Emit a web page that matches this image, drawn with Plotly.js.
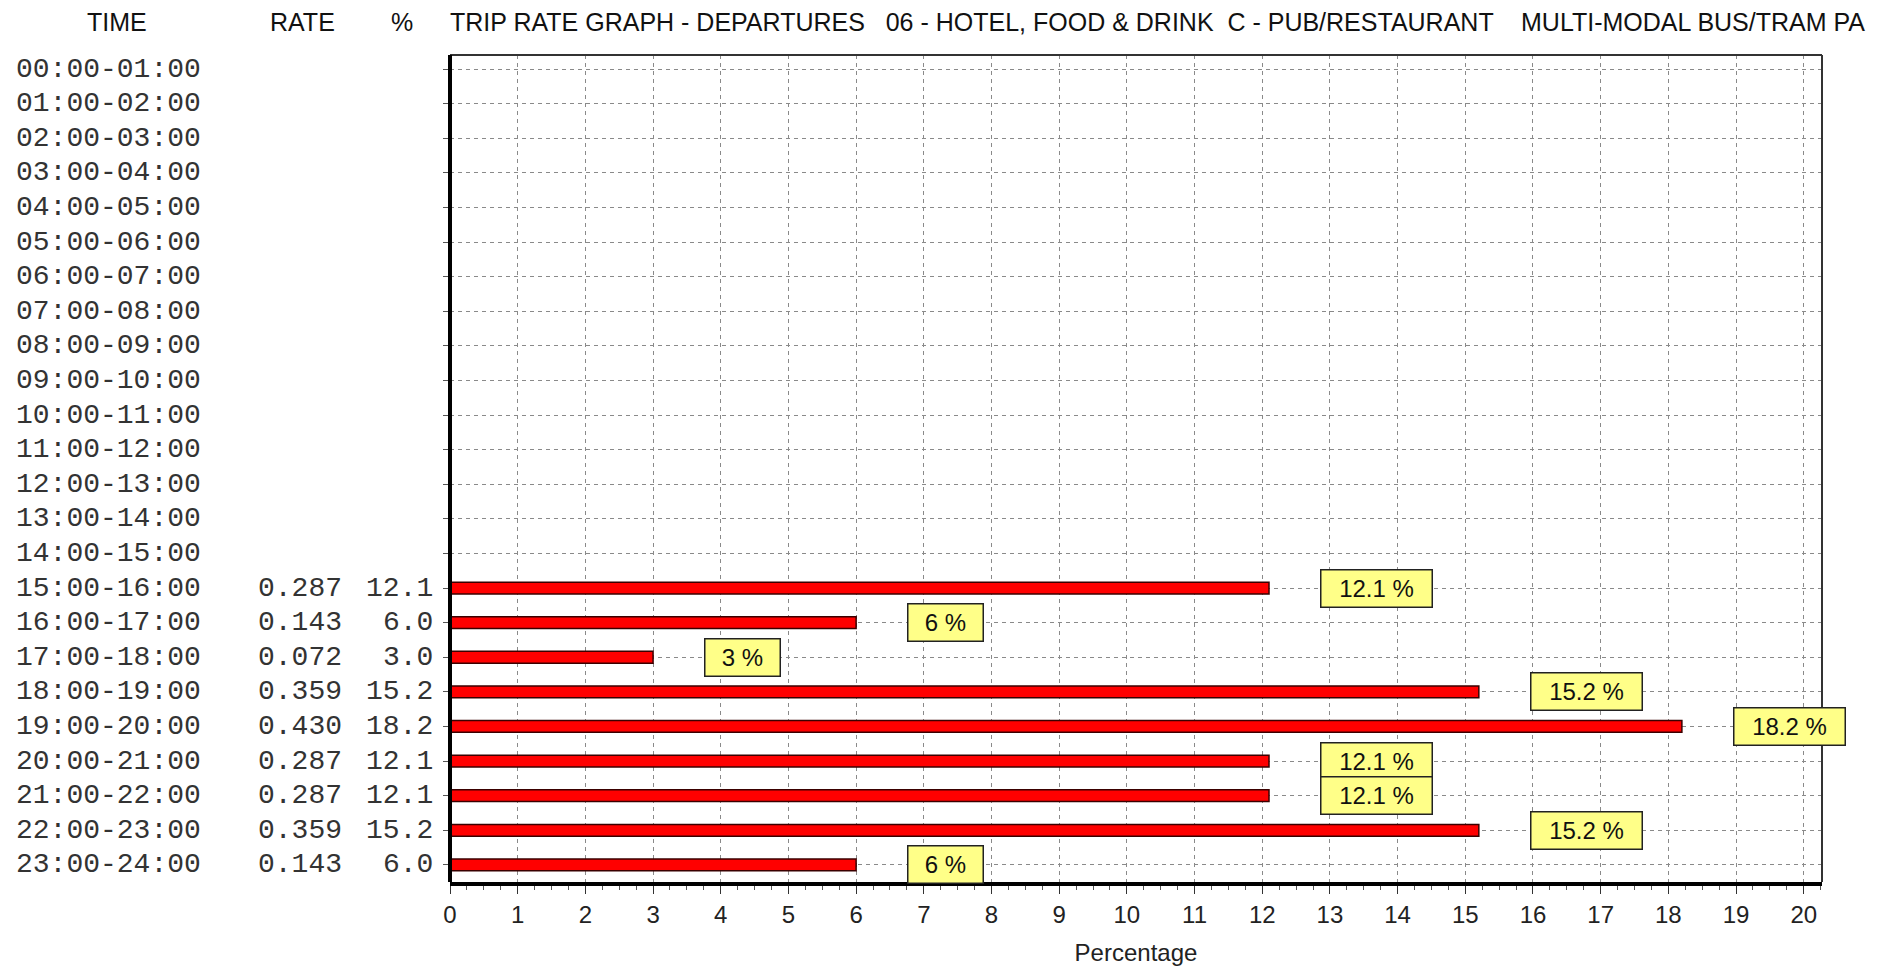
<!DOCTYPE html>
<html>
<head>
<meta charset="utf-8">
<script src="https://cdn.plot.ly/plotly-3.0.1.min.js"></script>
<style>
html,body{margin:0;padding:0;background:#fff;}
#chart{width:1892px;height:969px;}
</style>
</head>
<body>
<div id="chart"></div>
<script>
// ---- data ----
const times = ["00:00-01:00","01:00-02:00","02:00-03:00","03:00-04:00","04:00-05:00","05:00-06:00",
  "06:00-07:00","07:00-08:00","08:00-09:00","09:00-10:00","10:00-11:00","11:00-12:00",
  "12:00-13:00","13:00-14:00","14:00-15:00","15:00-16:00","16:00-17:00","17:00-18:00",
  "18:00-19:00","19:00-20:00","20:00-21:00","21:00-22:00","22:00-23:00","23:00-24:00"];
const rates = [null,null,null,null,null,null,null,null,null,null,null,null,null,null,null,
  "0.287","0.143","0.072","0.359","0.430","0.287","0.287","0.359","0.143"];
const pctText = [null,null,null,null,null,null,null,null,null,null,null,null,null,null,null,
  "12.1","6.0","3.0","15.2","18.2","12.1","12.1","15.2","6.0"];
const pctValues = [0,0,0,0,0,0,0,0,0,0,0,0,0,0,0,12.1,6,3,15.2,18.2,12.1,12.1,15.2,6];
const boxLabels = [null,null,null,null,null,null,null,null,null,null,null,null,null,null,null,
  "12.1 %","6 %","3 %","15.2 %","18.2 %","12.1 %","12.1 %","15.2 %","6 %"];
const headers = ["TIME","RATE","%"];
const chartTitle = "TRIP RATE GRAPH - DEPARTURES   06 - HOTEL, FOOD & DRINK  C - PUB/RESTAURANT    MULTI-MODAL BUS/TRAM PA";
const xTitle = "Percentage";

// ---- geometry (pixels) ----
const W = 1892, H = 969;
const L = 450, R = 1822, T = 55, B = 882;
const PW = R - L;
const px = p => (p - L) / PW;

const narrow = "Liberation Sans Narrow, Arial Narrow, Liberation Sans, Arial, sans-serif";
const mono = "Liberation Mono, DejaVu Sans Mono, monospace";

const annotations = [];
// header row
const headerX = [117, 302, 402];
headers.forEach((h, i) => annotations.push({
  text: h, xref: "paper", yref: "paper", x: px(headerX[i]), y: 1 + (T - 22) / (B - T),
  xanchor: "center", yanchor: "middle", showarrow: false,
  font: {family: narrow, size: 25, color: "#111"}
}));
annotations.push({
  text: chartTitle, xref: "paper", yref: "paper", x: px(448), y: 1 + (T - 22) / (B - T),
  xanchor: "left", yanchor: "middle", showarrow: false,
  font: {family: narrow, size: 25, color: "#111"}
});
// left columns
times.forEach((t, i) => {
  annotations.push({text: t, xref: "paper", yref: "y", x: px(14), y: t,
    xanchor: "left", yanchor: "middle", showarrow: false,
    font: {family: mono, size: 28, color: "#333"}});
  if (rates[i]) annotations.push({text: rates[i], xref: "paper", yref: "y", x: px(256), y: t,
    xanchor: "left", yanchor: "middle", showarrow: false,
    font: {family: mono, size: 28, color: "#333"}});
  if (pctText[i]) annotations.push({text: pctText[i], xref: "paper", yref: "y", x: px(435), y: t,
    xanchor: "right", yanchor: "middle", showarrow: false,
    font: {family: mono, size: 28, color: "#333"}});
  if (boxLabels[i]) annotations.push({text: boxLabels[i], xref: "x", yref: "y",
    x: pctValues[i] + 0.75, y: t, xanchor: "left", yanchor: "middle", showarrow: false,
    width: boxLabels[i].length > 4 ? 106 : 70, height: 32, borderpad: 2,
    bgcolor: "#ffff88", bordercolor: "#222", borderwidth: 1.5,
    font: {family: narrow, size: 24, color: "#111"}});
});

const trace = {
  type: "bar", orientation: "h", x: pctValues, y: times, width: 0.34,
  marker: {color: "#ff0000", line: {color: "#3a0000", width: 1.5}},
  hoverinfo: "skip"
};

const layout = {
  width: W, height: H,
  margin: {l: L, r: W - R, t: T, b: H - B, pad: 0},
  paper_bgcolor: "#fff", plot_bgcolor: "#fff",
  showlegend: false,
  xaxis: {
    range: [0, 20.27], dtick: 1, tick0: 0,
    showgrid: true, gridcolor: "#8a8a8a", gridwidth: 1, griddash: "4px,4px",
    zeroline: false, showline: true, linecolor: "#000", linewidth: 4,
    ticks: "outside", ticklen: 8, tickcolor: "#333", tickwidth: 1,
    minor: {dtick: 0.25, ticks: "outside", ticklen: 4, tickcolor: "#555", showgrid: false},
    tickfont: {family: narrow, size: 24, color: "#222"},
    title: {text: xTitle, font: {family: narrow, size: 24, color: "#222"}, standoff: 18}
  },
  yaxis: {
    type: "category", categoryorder: "array", categoryarray: times,
    range: [23.495, -0.405],
    showgrid: true, gridcolor: "#8a8a8a", gridwidth: 1, griddash: "4px,4px",
    zeroline: false, showline: false,
    ticks: "outside", ticklen: 6, tickcolor: "#555", showticklabels: false
  },
  shapes: [
    {type: "line", xref: "paper", yref: "paper", x0: 0, x1: 1, y0: 1, y1: 1, line: {color: "#333", width: 2}},
    {type: "line", xref: "paper", yref: "paper", x0: 1, x1: 1, y0: 0, y1: 1, line: {color: "#333", width: 2}},
    {type: "line", xref: "paper", yref: "paper", x0: 0, x1: 0, y0: 0, y1: 1, line: {color: "#000", width: 4}}
  ],
  annotations: annotations,
  bargap: 0
};

Plotly.newPlot("chart", [trace], layout, {displayModeBar: false, staticPlot: true});
</script>
</body>
</html>
